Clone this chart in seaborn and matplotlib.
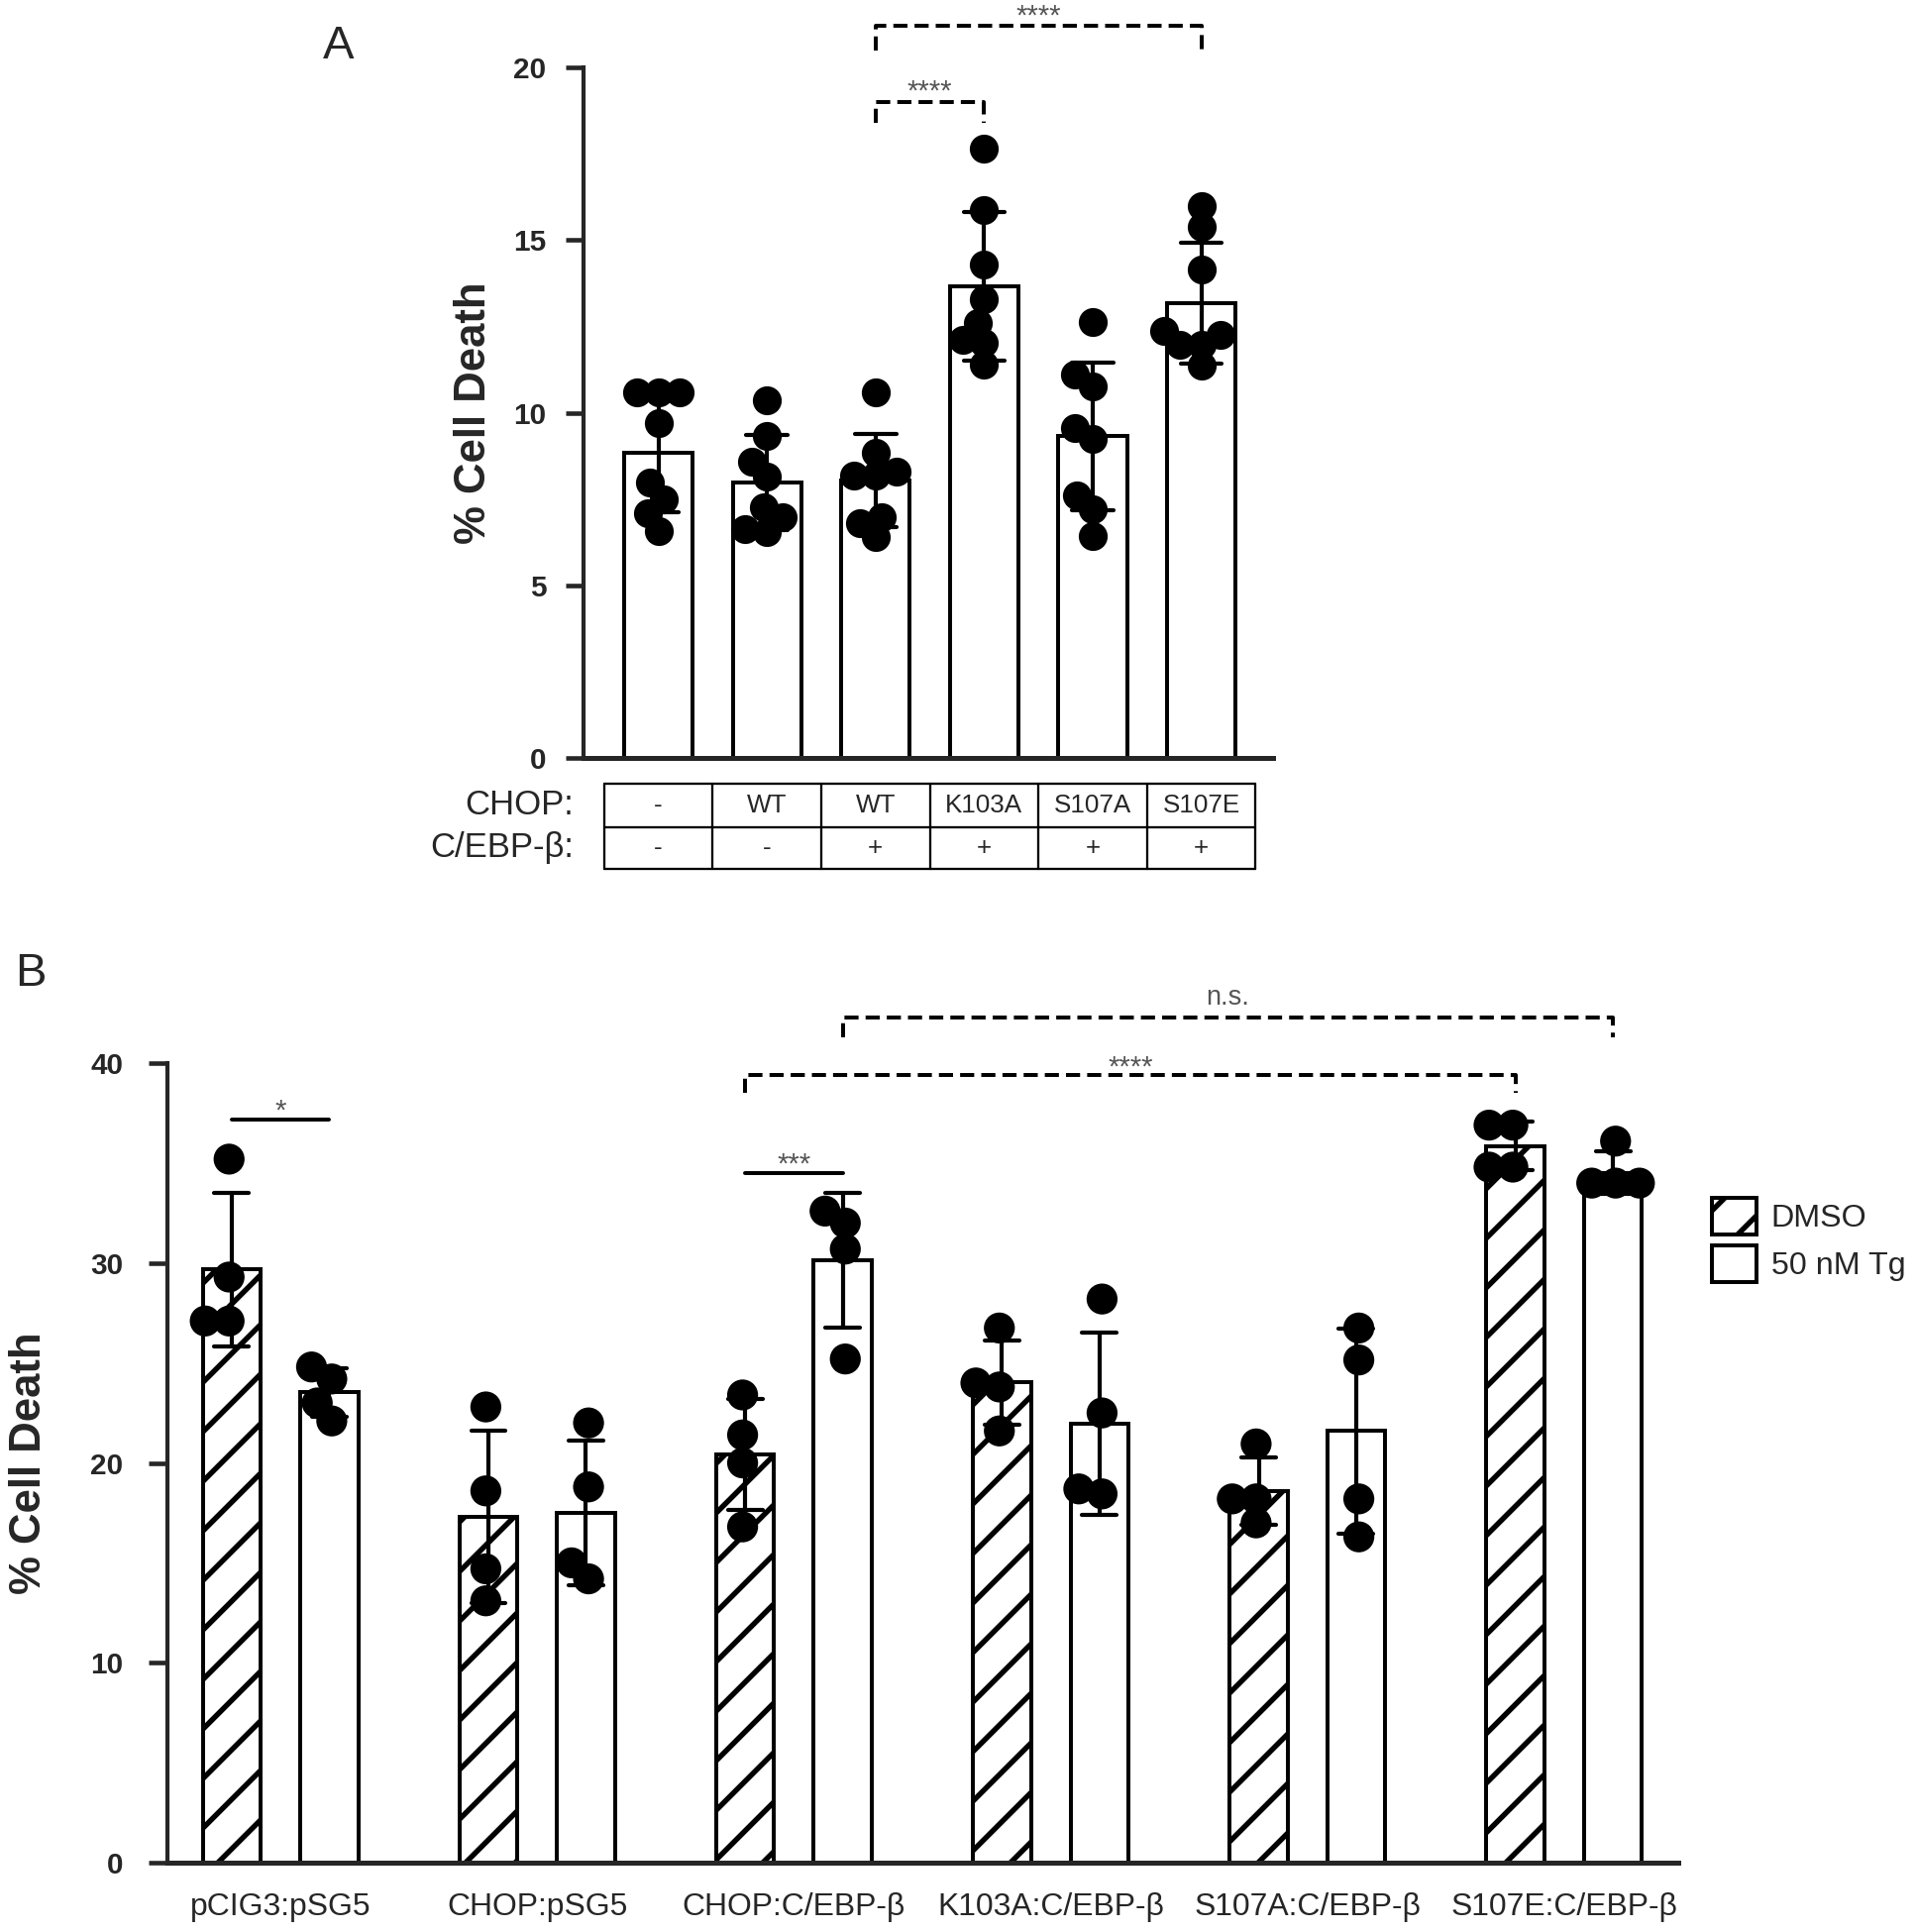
import numpy as np
import pandas as pd
import matplotlib
matplotlib.use("Agg")
import matplotlib.pyplot as plt
import matplotlib.transforms as mtransforms
from matplotlib.patches import Patch
from matplotlib.collections import PathCollection
import seaborn as sns

# ---- panel A data (8 replicates per condition) ----
a_groups = ["-/-", "WT/-", "WT/+", "K103A/+", "S107A/+", "S107E/+"]
chop_row = ["-", "WT", "WT", "K103A", "S107A", "S107E"]
cebp_row = ["-", "-", "+", "+", "+", "+"]
a_vals = [
    [10.6, 10.6, 10.6, 9.7, 7.97, 7.5, 7.1, 6.58],
    [10.36, 9.32, 8.57, 8.14, 7.26, 6.97, 6.62, 6.55],
    [10.6, 8.85, 8.3, 8.19, 8.19, 6.97, 6.8, 6.4],
    [17.65, 15.87, 14.3, 13.3, 12.6, 12.1, 12.03, 11.39],
    [12.64, 11.1, 10.75, 9.57, 9.25, 7.6, 7.19, 6.43],
    [15.97, 15.37, 14.16, 12.38, 12.24, 11.96, 11.96, 11.36],
]

# ---- panel B data (4 replicates per condition) ----
b_groups = ["pCIG3:pSG5", "CHOP:pSG5", "CHOP:C/EBP-β",
            "K103A:C/EBP-β", "S107A:C/EBP-β", "S107E:C/EBP-β"]
treatments = ["DMSO", "50 nM Tg"]
b_dmso = [
    [35.2, 29.3, 27.1, 27.1],
    [22.8, 18.6, 14.7, 13.1],
    [23.4, 21.4, 20.0, 16.8],
    [26.75, 24.0, 23.8, 21.6],
    [20.95, 18.2, 18.2, 17.0],
    [36.9, 36.9, 34.8, 34.8],
]
b_tg = [
    [24.8, 24.2, 23.0, 22.1],
    [22.0, 18.8, 15.0, 14.2],
    [32.6, 32.0, 30.7, 25.2],
    [28.2, 22.5, 18.7, 18.45],
    [26.75, 25.15, 18.2, 16.3],
    [36.1, 34.0, 34.0, 34.0],
]

dfA = pd.DataFrame([(g, v) for g, vals in zip(a_groups, a_vals) for v in vals],
                   columns=["group", "value"])
rows = []
for g, d, t in zip(b_groups, b_dmso, b_tg):
    rows += [(g, "DMSO", v) for v in d]
    rows += [(g, "50 nM Tg", v) for v in t]
dfB = pd.DataFrame(rows, columns=["group", "treatment", "value"])

sns.set_style("ticks")
plt.rcParams["font.family"] = ["Liberation Sans", "DejaVu Sans"]
plt.rcParams["hatch.linewidth"] = 2.6

DPI = 150
fig = plt.figure(figsize=(1934 / DPI, 1950 / DPI), dpi=DPI)
axA = fig.add_axes([0.3045, 0.6077, 0.3599, 0.3574])
axB = fig.add_axes([0.0874, 0.0359, 0.7885, 0.4138])

err = {"color": "black", "linewidth": 2.0}

# ---------------- panel A ----------------
sns.barplot(data=dfA, x="group", y="value", order=a_groups, errorbar="sd",
            color="white", edgecolor="black", linewidth=1.9, width=0.63,
            capsize=0.38, err_kws=err, ax=axA)
# swarm laid out with small dots, redrawn bigger below (dots overlap like the original)
sns.swarmplot(data=dfA, x="group", y="value", order=a_groups, color="black",
              size=10, ax=axA, zorder=3, warn_thresh=1)
axA.set_xlim(-0.69, 5.66)
axA.set_ylim(0, 20)
axA.set_yticks([0, 5, 10, 15, 20])
axA.set_xticks([])
axA.set_xlabel("")
axA.set_ylabel("% Cell Death", fontsize=21, fontweight="bold")
axA.yaxis.set_label_coords(-0.129, 0.5)

# condition table under panel A
tr = mtransforms.blended_transform_factory(axA.transData, axA.transAxes)
y_top, y_mid, y_bot = -0.037, -0.100, -0.161
for yy in (y_top, y_mid, y_bot):
    axA.plot([-0.5, 5.5], [yy, yy], color="black", lw=1.1, transform=tr, clip_on=False)
for xx in np.arange(-0.5, 6.0, 1.0):
    axA.plot([xx, xx], [y_top, y_bot], color="black", lw=1.1, transform=tr, clip_on=False)
for i, (c, b) in enumerate(zip(chop_row, cebp_row)):
    axA.text(i, (y_top + y_mid) / 2, c, transform=tr, ha="center", va="center", fontsize=12.5)
    axA.text(i, (y_mid + y_bot) / 2, b, transform=tr, ha="center", va="center", fontsize=12.5)
axA.text(-0.78, (y_top + y_mid) / 2, "CHOP:", transform=tr, ha="right", va="center", fontsize=16.7)
axA.text(-0.78, (y_mid + y_bot) / 2, "C/EBP-β:", transform=tr, ha="right", va="center", fontsize=16.7)


def bracket(ax, x0, x1, y, drop, label, dashed=True, fs=14, off=0, col="#555555"):
    if dashed:
        ax.plot([x0, x0, x1, x1], [y - drop, y, y, y - drop], color="black",
                lw=1.9, ls=(0, (3.6, 1.8)), clip_on=False)
    else:
        ax.plot([x0, x1], [y, y], color="black", lw=1.9, clip_on=False)
    ax.annotate(label, ((x0 + x1) / 2, y), xytext=(0, off), textcoords="offset points",
                ha="center", va="baseline", fontsize=fs, color=col, annotation_clip=False)


bracket(axA, 2, 3, 19.0, 0.6, "****", off=1)
bracket(axA, 2, 5, 21.2, 0.7, "****", off=1)

# ---------------- panel B ----------------
sns.barplot(data=dfB, x="group", y="value", hue="treatment", order=b_groups,
            hue_order=treatments, palette=["white", "white"], edgecolor="black",
            linewidth=1.9, width=0.76, gap=0.405, errorbar="sd", capsize=0.27,
            err_kws=err, ax=axB, legend=False)
for bar in axB.containers[0]:
    bar.set_hatch("/")
sns.swarmplot(data=dfB, x="group", y="value", hue="treatment", order=b_groups,
              hue_order=treatments, palette=["black", "black"], dodge=True,
              size=11, ax=axB, legend=False, zorder=3, warn_thresh=1)
axB.set_xlim(-0.44, 5.444)
axB.set_ylim(0, 40)
axB.set_yticks([0, 10, 20, 30, 40])
axB.set_xlabel("")
axB.set_ylabel("% Cell Death", fontsize=21, fontweight="bold")
axB.yaxis.set_label_coords(-0.078, 0.5)

bracket(axB, -0.19, 0.19, 37.2, 0.8, "*", dashed=False)
bracket(axB, 1.81, 2.19, 34.5, 0.8, "***", dashed=False)
bracket(axB, 1.81, 4.81, 39.4, 0.9, "****")
bracket(axB, 2.19, 5.19, 42.3, 1.0, "n.s.", fs=13, off=6)

handles = [Patch(facecolor="white", edgecolor="black", hatch="/", lw=1.9, label="DMSO"),
           Patch(facecolor="white", edgecolor="black", lw=1.9, label="50 nM Tg")]
fig.legend(handles=handles, loc="upper left", bbox_to_anchor=(1728 / 1934, 1 - 1209 / 1950),
           frameon=False, fontsize=15.5, handlelength=1.4, handleheight=1.4,
           handletextpad=0.45, labelspacing=0.33, borderpad=0, borderaxespad=0)

for ax in (axA, axB):
    sns.despine(ax=ax)
    ax.spines["left"].set_linewidth(2.0)
    ax.spines["bottom"].set_linewidth(2.4)
    ax.tick_params(axis="x", length=0)
    plt.setp(ax.get_yticklabels(), fontweight="bold")
axA.tick_params(axis="y", length=8.6, width=2.2, labelsize=14.3, pad=9.3)
axB.tick_params(axis="y", length=9.1, width=2.2, labelsize=14.3, pad=12.5)
axB.tick_params(axis="x", labelsize=15.3, pad=14.5)

fig.text(342 / 1934, 1 - 47 / 1950, "A", fontsize=22.7, ha="center", va="center")
fig.text(31 / 1934, 1 - 983 / 1950, "B", fontsize=22.7, ha="center", va="center")

# fix the swarm layout, then enlarge the dots
fig.canvas.draw()
for ax, big in ((axA, 14), (axB, 15)):
    for coll in ax.collections:
        if isinstance(coll, PathCollection) and "draw" in vars(coll):
            del coll.draw
            coll.set_sizes([big ** 2])

fig.savefig("out.png", dpi=DPI)
